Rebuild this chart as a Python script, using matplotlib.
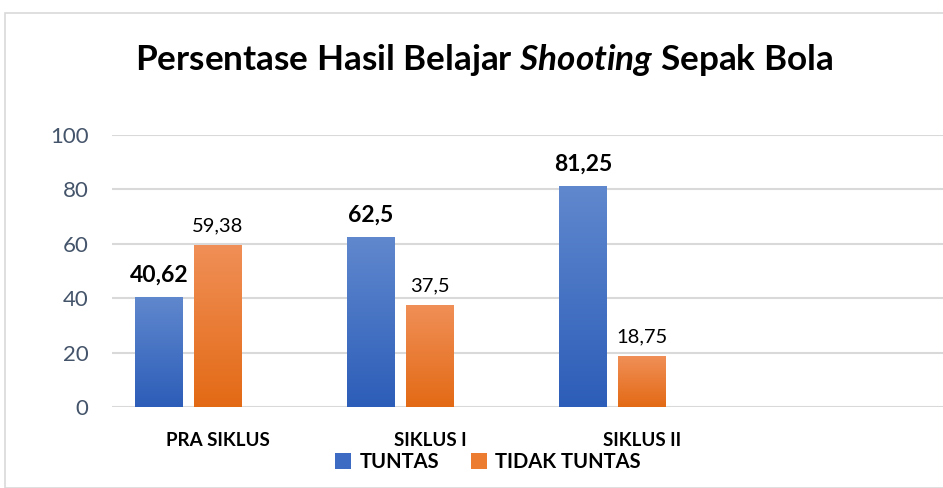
import numpy as np
from matplotlib import pyplot as plt
from matplotlib.colors import LinearSegmentedColormap
from matplotlib.patches import Patch, Rectangle

categories = ["PRA SIKLUS", "SIKLUS I", "SIKLUS II", ""]
tuntas = [40.62, 62.5, 81.25]
tidak_tuntas = [59.38, 37.5, 18.75]
tuntas_labels = ["40,62", "62,5", "81,25"]
tidak_labels = ["59,38", "37,5", "18,75"]
series_names = ["TUNTAS", "TIDAK TUNTAS"]

plt.rcParams["font.family"] = ["Lato", "DejaVu Sans"]
plt.rcParams["mathtext.fontset"] = "custom"
plt.rcParams["mathtext.rm"] = "Lato:bold"
plt.rcParams["mathtext.it"] = "Lato:italic:bold"

W, H = 943, 488
fig = plt.figure(figsize=(W / 100, H / 100), dpi=100)
fig.patches.append(
    Rectangle((5 / W, 0), 1.0, 1 - 13 / H, transform=fig.transFigure,
              fill=False, edgecolor="#D9D9D9", lw=1.2)
)

ax = fig.add_axes([112 / W, (H - 407) / H, 848 / W, 272 / H])

blue_cmap = LinearSegmentedColormap.from_list("b", ["#2C5DB8", "#6088CE"])
orange_cmap = LinearSegmentedColormap.from_list("o", ["#E36A15", "#F08F57"])

width = 0.226
step = 0.278
x = np.arange(len(tuntas))
grad = np.linspace(0, 1, 256).reshape(-1, 1)


def gradient_bars(xs, vals, cmap):
    bars = ax.bar(xs, vals, width, color="none", edgecolor="none", zorder=3)
    for b in bars:
        x0, y0 = b.get_x(), b.get_y()
        im = ax.imshow(grad, cmap=cmap, origin="lower", aspect="auto",
                       extent=[x0, x0 + b.get_width(), y0, y0 + b.get_height()],
                       zorder=3)
        im.set_clip_path(b)
    return bars


gradient_bars(x - step, tuntas, blue_cmap)
gradient_bars(x, tidak_tuntas, orange_cmap)

for xi, v, lab in zip(x - step, tuntas, tuntas_labels):
    ax.text(xi, v + 4, lab, ha="center", va="bottom", fontsize=16.5,
            fontweight="bold", color="black")
for xi, v, lab in zip(x, tidak_tuntas, tidak_labels):
    ax.text(xi, v + 4, lab, ha="center", va="bottom", fontsize=14.5,
            color="black")

ax.set_xlim(-0.5, len(categories) - 0.5)
ax.set_ylim(0, 100)
ax.set_yticks(range(0, 101, 20))
ax.set_xticks(range(len(categories)))
ax.set_xticklabels(categories, fontweight="bold", fontsize=13.5)
ax.tick_params(axis="x", length=0, pad=18)
ax.tick_params(axis="y", length=0, pad=17, labelsize=16, labelcolor="#44546A")
ax.grid(axis="y", color="#D9D9D9", lw=1.5, zorder=0)
ax.set_axisbelow(True)
for s in ax.spines.values():
    s.set_visible(False)

fig.text(484 / W, 1 - 60 / H, r"Persentase Hasil Belajar $\mathit{Shooting}$ Sepak Bola",
         ha="center", va="center", fontsize=25.3, fontweight="bold")

handles = [Patch(facecolor="#3D6AC2"), Patch(facecolor="#EC7C30")]
fig.legend(handles, series_names, loc="center", bbox_to_anchor=(488 / W, 1 - 462 / H),
           ncol=2, frameon=False, prop=dict(weight="bold", size=14.5),
           handlelength=0.8, handleheight=0.8, handletextpad=0.4, columnspacing=1.6)

fig.savefig("out.png", dpi=100)
